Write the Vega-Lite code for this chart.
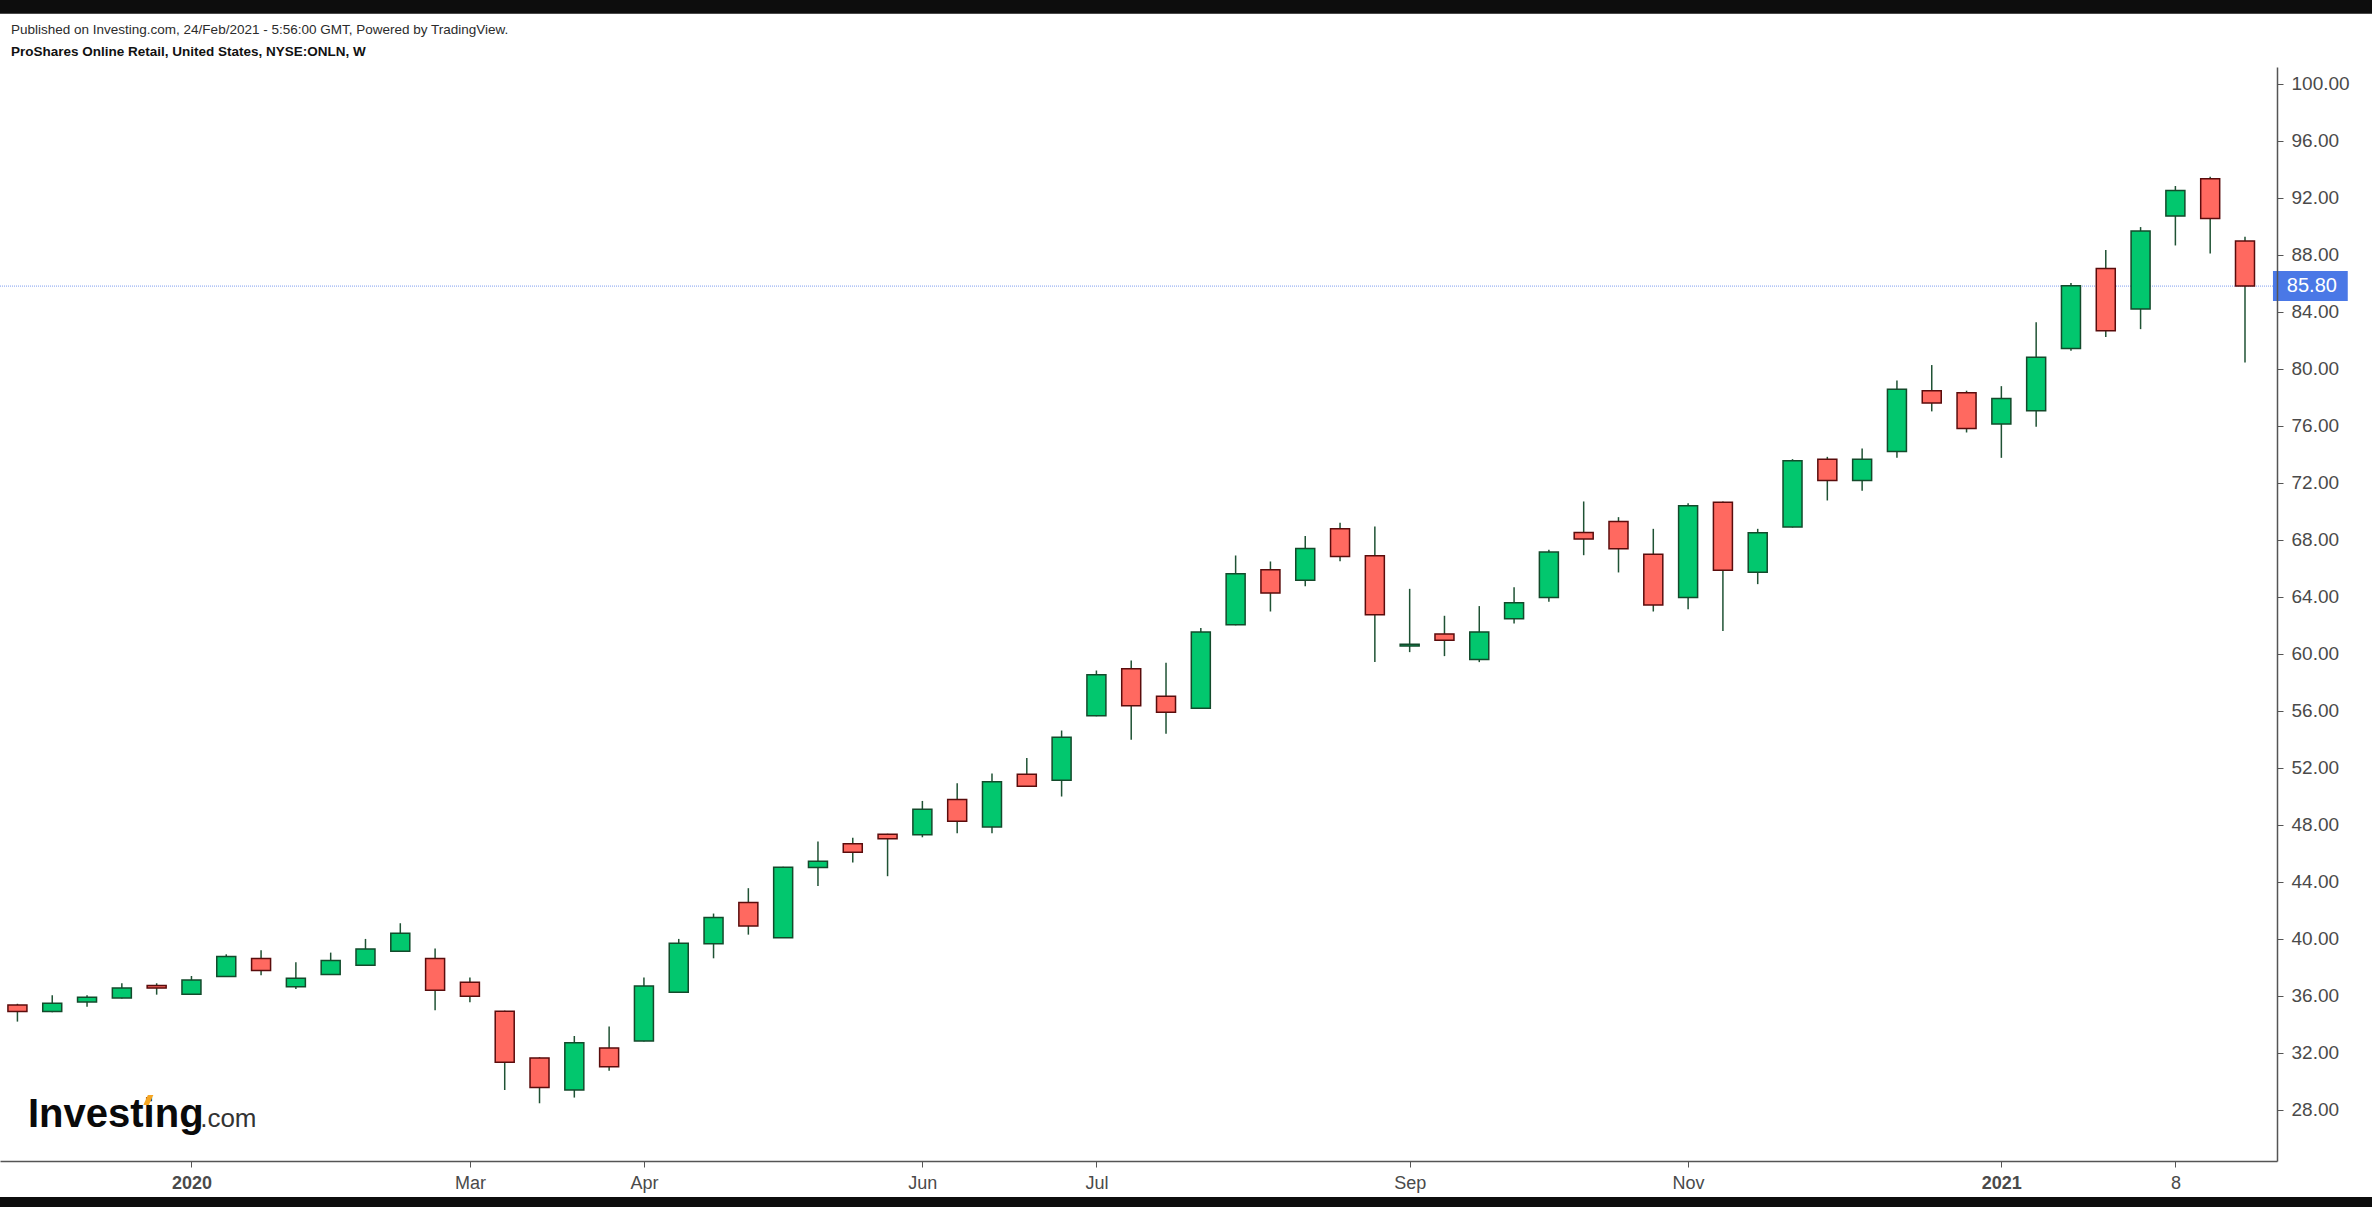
{
  "$schema": "https://vega.github.io/schema/vega-lite/v6.json",
  "width": 2277,
  "height": 1094,
  "autosize": {"type": "none"},
  "padding": {"left": 0, "top": 67, "right": 95, "bottom": 46},
  "background": "#0d0d0d",
  "config": {"view": {"stroke": null}},
  "datasets": {
    "candles": [
      {"date": "2019-12-02", "open": 35.37, "high": 35.45, "low": 34.20, "close": 34.90},
      {"date": "2019-12-09", "open": 34.90, "high": 36.05, "low": 34.85, "close": 35.49},
      {"date": "2019-12-16", "open": 35.58, "high": 36.05, "low": 35.25, "close": 35.91},
      {"date": "2019-12-23", "open": 35.86, "high": 36.89, "low": 35.82, "close": 36.56},
      {"date": "2019-12-30", "open": 36.73, "high": 36.89, "low": 36.09, "close": 36.55},
      {"date": "2020-01-06", "open": 36.12, "high": 37.40, "low": 36.08, "close": 37.12},
      {"date": "2020-01-13", "open": 37.36, "high": 38.92, "low": 37.33, "close": 38.76},
      {"date": "2020-01-20", "open": 38.62, "high": 39.20, "low": 37.45, "close": 37.78},
      {"date": "2020-01-27", "open": 36.65, "high": 38.36, "low": 36.49, "close": 37.24},
      {"date": "2020-02-03", "open": 37.50, "high": 39.04, "low": 37.47, "close": 38.48},
      {"date": "2020-02-10", "open": 38.15, "high": 40.00, "low": 38.12, "close": 39.30},
      {"date": "2020-02-17", "open": 39.13, "high": 41.10, "low": 39.10, "close": 40.40},
      {"date": "2020-02-24", "open": 38.62, "high": 39.32, "low": 34.99, "close": 36.40},
      {"date": "2020-03-02", "open": 36.96, "high": 37.29, "low": 35.56, "close": 35.98},
      {"date": "2020-03-09", "open": 34.92, "high": 34.97, "low": 29.40, "close": 31.35},
      {"date": "2020-03-16", "open": 31.65, "high": 31.70, "low": 28.47, "close": 29.57},
      {"date": "2020-03-23", "open": 29.40, "high": 33.19, "low": 28.87, "close": 32.72},
      {"date": "2020-03-30", "open": 32.35, "high": 33.85, "low": 30.76, "close": 31.04},
      {"date": "2020-04-06", "open": 32.84, "high": 37.29, "low": 32.80, "close": 36.70},
      {"date": "2020-04-13", "open": 36.26, "high": 40.00, "low": 36.22, "close": 39.70},
      {"date": "2020-04-20", "open": 39.67, "high": 41.78, "low": 38.64, "close": 41.50},
      {"date": "2020-04-27", "open": 42.55, "high": 43.56, "low": 40.30, "close": 40.91},
      {"date": "2020-05-04", "open": 40.09, "high": 45.06, "low": 40.06, "close": 45.03},
      {"date": "2020-05-11", "open": 45.01, "high": 46.83, "low": 43.72, "close": 45.45},
      {"date": "2020-05-18", "open": 46.67, "high": 47.09, "low": 45.36, "close": 46.08},
      {"date": "2020-05-25", "open": 47.35, "high": 47.38, "low": 44.40, "close": 47.02},
      {"date": "2020-06-01", "open": 47.30, "high": 49.68, "low": 47.13, "close": 49.10},
      {"date": "2020-06-08", "open": 49.78, "high": 50.92, "low": 47.42, "close": 48.26},
      {"date": "2020-06-15", "open": 47.86, "high": 51.60, "low": 47.42, "close": 51.02},
      {"date": "2020-06-22", "open": 51.56, "high": 52.70, "low": 50.68, "close": 50.71},
      {"date": "2020-06-29", "open": 51.13, "high": 54.62, "low": 49.99, "close": 54.15},
      {"date": "2020-07-06", "open": 55.65, "high": 58.83, "low": 55.62, "close": 58.53},
      {"date": "2020-07-13", "open": 58.95, "high": 59.53, "low": 53.97, "close": 56.35},
      {"date": "2020-07-20", "open": 57.03, "high": 59.37, "low": 54.39, "close": 55.91},
      {"date": "2020-07-27", "open": 56.19, "high": 61.82, "low": 56.16, "close": 61.54},
      {"date": "2020-08-03", "open": 62.04, "high": 66.90, "low": 62.00, "close": 65.61},
      {"date": "2020-08-10", "open": 65.90, "high": 66.48, "low": 62.97, "close": 64.26},
      {"date": "2020-08-17", "open": 65.17, "high": 68.26, "low": 64.75, "close": 67.39},
      {"date": "2020-08-24", "open": 68.77, "high": 69.19, "low": 66.50, "close": 66.83},
      {"date": "2020-08-31", "open": 66.88, "high": 68.94, "low": 59.42, "close": 62.74},
      {"date": "2020-09-07", "open": 60.55, "high": 64.56, "low": 60.12, "close": 60.68},
      {"date": "2020-09-14", "open": 61.40, "high": 62.67, "low": 59.84, "close": 60.96},
      {"date": "2020-09-21", "open": 59.60, "high": 63.35, "low": 59.42, "close": 61.54},
      {"date": "2020-09-28", "open": 62.46, "high": 64.68, "low": 62.13, "close": 63.58},
      {"date": "2020-10-05", "open": 63.95, "high": 67.30, "low": 63.65, "close": 67.14},
      {"date": "2020-10-12", "open": 68.51, "high": 70.69, "low": 66.92, "close": 68.05},
      {"date": "2020-10-19", "open": 69.29, "high": 69.59, "low": 65.71, "close": 67.37},
      {"date": "2020-10-26", "open": 66.99, "high": 68.77, "low": 62.97, "close": 63.42},
      {"date": "2020-11-02", "open": 63.95, "high": 70.57, "low": 63.13, "close": 70.39},
      {"date": "2020-11-09", "open": 70.64, "high": 70.68, "low": 61.61, "close": 65.87},
      {"date": "2020-11-16", "open": 65.73, "high": 68.77, "low": 64.89, "close": 68.49},
      {"date": "2020-11-23", "open": 68.89, "high": 73.66, "low": 68.86, "close": 73.54},
      {"date": "2020-11-30", "open": 73.66, "high": 73.82, "low": 70.76, "close": 72.16},
      {"date": "2020-12-07", "open": 72.16, "high": 74.41, "low": 71.44, "close": 73.66},
      {"date": "2020-12-14", "open": 74.20, "high": 79.18, "low": 73.75, "close": 78.57},
      {"date": "2020-12-21", "open": 78.46, "high": 80.26, "low": 77.01, "close": 77.59},
      {"date": "2020-12-28", "open": 78.32, "high": 78.46, "low": 75.53, "close": 75.81},
      {"date": "2021-01-04", "open": 76.12, "high": 78.78, "low": 73.75, "close": 77.92},
      {"date": "2021-01-11", "open": 77.05, "high": 83.27, "low": 75.93, "close": 80.80},
      {"date": "2021-01-18", "open": 81.43, "high": 86.01, "low": 81.26, "close": 85.82},
      {"date": "2021-01-25", "open": 87.04, "high": 88.33, "low": 82.22, "close": 82.67},
      {"date": "2021-02-01", "open": 84.19, "high": 89.94, "low": 82.78, "close": 89.66},
      {"date": "2021-02-08", "open": 90.71, "high": 92.82, "low": 88.65, "close": 92.51},
      {"date": "2021-02-15", "open": 93.33, "high": 93.47, "low": 88.09, "close": 90.55},
      {"date": "2021-02-22", "open": 88.96, "high": 89.26, "low": 80.44, "close": 85.80}
    ]
  },
  "data": {"name": "candles"},
  "layer": [
    {
      "data": {"values": [{}]},
      "mark": {"type": "rect", "fill": "#ffffff", "clip": false},
      "encoding": {
        "x": {"datum": {"year": 2019, "month": 1, "date": 1, "utc": true}, "type": "temporal"},
        "x2": {"datum": {"year": 2022, "month": 1, "date": 1, "utc": true}},
        "y": {"datum": 104.91, "type": "quantitative"},
        "y2": {"datum": 21.89}
      }
    },
    {
      "data": {"values": [{}]},
      "mark": {"type": "text", "text": "Published on Investing.com, 24/Feb/2021 - 5:56:00 GMT, Powered by TradingView.",
               "align": "left", "baseline": "middle", "font": "Liberation Sans", "fontSize": 13.5,
               "fill": "#2b2b2b", "clip": false},
      "encoding": {
        "x": {"datum": {"year": 2019, "month": 11, "date": 30, "hours": 17, "utc": true}, "type": "temporal"},
        "y": {"datum": 103.79, "type": "quantitative"}
      }
    },
    {
      "data": {"values": [{}]},
      "mark": {"type": "text", "text": "ProShares Online Retail, United States, NYSE:ONLN, W",
               "align": "left", "baseline": "middle", "font": "Liberation Sans", "fontSize": 13.5,
               "fontWeight": "bold", "fill": "#111111", "clip": false},
      "encoding": {
        "x": {"datum": {"year": 2019, "month": 11, "date": 30, "hours": 17, "utc": true}, "type": "temporal"},
        "y": {"datum": 102.25, "type": "quantitative"}
      }
    },
    {
      "data": {"values": [{}]},
      "mark": {"type": "rule", "stroke": "#7f9df0", "strokeWidth": 1, "strokeDash": [1, 1]},
      "encoding": {
        "y": {"datum": 85.8, "type": "quantitative"}
      }
    },
    {
      "mark": {"type": "rule", "stroke": "#1f5234", "strokeWidth": 1.5},
      "encoding": {
        "x": {
          "field": "date", "type": "temporal", "title": null,
          "scale": {"type": "utc", "nice": false,
            "domain": [{"year": 2019, "month": 11, "date": 29, "hours": 12, "utc": true},
                       {"year": 2021, "month": 2, "date": 27, "hours": 10, "minutes": 20, "utc": true}]},
          "axis": {
            "values": [
              {"year": 2020, "month": 1, "date": 6, "utc": true},
              {"year": 2020, "month": 3, "date": 2, "utc": true},
              {"year": 2020, "month": 4, "date": 6, "utc": true},
              {"year": 2020, "month": 6, "date": 1, "utc": true},
              {"year": 2020, "month": 7, "date": 6, "utc": true},
              {"year": 2020, "month": 9, "date": 7, "utc": true},
              {"year": 2020, "month": 11, "date": 2, "utc": true},
              {"year": 2021, "month": 1, "date": 4, "utc": true},
              {"year": 2021, "month": 2, "date": 8, "utc": true}
            ],
            "labelExpr": "utcmonth(datum.value) == 0 && utcdate(datum.value) <= 7 ? utcFormat(datum.value, '%Y') : (utcdate(datum.value) <= 7 ? utcFormat(datum.value, '%b') : utcFormat(datum.value, '%-d'))",
            "labelFontWeight": {"condition": {"test": "utcmonth(datum.value) == 0 && utcdate(datum.value) <= 7", "value": "bold"}, "value": "normal"},
            "grid": false, "title": null, "zindex": 1,
            "domainColor": "#555555", "domainWidth": 1.5,
            "tickColor": "#555555", "tickSize": 6, "tickWidth": 1,
            "labelFont": "Liberation Sans", "labelFontSize": 18, "labelColor": "#4a4a4a",
            "labelPadding": 7, "labelFlush": false, "labelOverlap": false
          }
        },
        "y": {
          "field": "low", "type": "quantitative", "title": null,
          "scale": {"domain": [24.42, 101.17], "nice": false, "zero": false},
          "axis": {
            "orient": "right",
            "values": [28, 32, 36, 40, 44, 48, 52, 56, 60, 64, 68, 72, 76, 80, 84, 88, 92, 96, 100],
            "format": ".2f", "grid": false, "title": null, "zindex": 1,
            "domainColor": "#555555", "domainWidth": 1.5,
            "tickColor": "#555555", "tickSize": 6, "tickWidth": 1,
            "labelFont": "Liberation Sans", "labelFontSize": 19, "labelColor": "#4a4a4a",
            "labelPadding": 8, "labelOverlap": false
          }
        },
        "y2": {"field": "high"}
      }
    },
    {
      "mark": {"type": "bar", "size": 19, "strokeWidth": 1.5},
      "encoding": {
        "x": {"field": "date", "type": "temporal", "title": null},
        "y": {"field": "open", "type": "quantitative", "title": null},
        "y2": {"field": "close"},
        "fill": {"condition": {"test": "datum.close < datum.open", "value": "#ff6960"}, "value": "#02c76e"},
        "stroke": {"condition": {"test": "datum.close < datum.open", "value": "#5a0c0c"}, "value": "#134a2b"}
      }
    },
    {
      "data": {"values": [{}]},
      "mark": {"type": "text", "text": "Investing", "align": "left", "baseline": "alphabetic",
               "font": "Liberation Sans", "fontWeight": "bold", "fontSize": 40, "fill": "#0a0a0a"},
      "encoding": {
        "x": {"datum": {"year": 2019, "month": 12, "date": 4, "hours": 3, "utc": true}, "type": "temporal"},
        "y": {"datum": 26.81, "type": "quantitative"}
      }
    },
    {
      "data": {"values": [{}]},
      "mark": {"type": "point", "shape": "M -0.1 -1 L 1 -1 L 0.1 1 L -1 1 Z", "size": 100,
               "filled": true, "fill": "#f5a623", "stroke": null, "opacity": 1},
      "encoding": {
        "x": {"datum": {"year": 2019, "month": 12, "date": 28, "hours": 8, "utc": true}, "type": "temporal"},
        "y": {"datum": 28.7, "type": "quantitative"}
      }
    },
    {
      "data": {"values": [{}]},
      "mark": {"type": "text", "text": ".com", "align": "left", "baseline": "alphabetic",
               "font": "Liberation Sans", "fontWeight": "normal", "fontSize": 26, "fill": "#333333"},
      "encoding": {
        "x": {"datum": {"year": 2020, "month": 1, "date": 7, "hours": 18, "utc": true}, "type": "temporal"},
        "y": {"datum": 26.81, "type": "quantitative"}
      }
    },
    {
      "data": {"values": [{}]},
      "mark": {"type": "rect", "fill": "#4a78e6", "clip": false},
      "encoding": {
        "x": {"datum": {"year": 2021, "month": 2, "date": 27, "hours": 15, "utc": true}, "type": "temporal"},
        "x2": {"datum": {"year": 2021, "month": 3, "date": 14, "hours": 16, "utc": true}},
        "y": {"datum": 86.85, "type": "quantitative"},
        "y2": {"datum": 84.75}
      }
    },
    {
      "data": {"values": [{}]},
      "mark": {"type": "text", "text": "85.80", "align": "left", "baseline": "middle",
               "font": "Liberation Sans", "fontSize": 20, "fill": "#ffffff", "clip": false},
      "encoding": {
        "x": {"datum": {"year": 2021, "month": 3, "date": 2, "hours": 10, "utc": true}, "type": "temporal"},
        "y": {"datum": 85.8, "type": "quantitative"}
      }
    }
  ]
}
